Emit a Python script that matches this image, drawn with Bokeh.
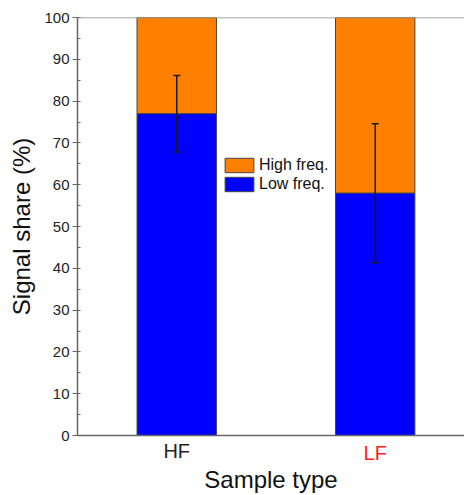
from bokeh.plotting import figure
from bokeh.models import (ColumnDataSource, Whisker, TeeHead, Range1d, FixedTicker,
                          SingleIntervalTicker, Span, Legend, LegendItem, LinearAxis)
from bokeh.embed import file_html
from bokeh.resources import INLINE

# Data
categories = ["HF", "LF"]
positions = [1, 2]
low_freq = [77.0, 58.0]
high_freq = [23.0, 42.0]
err_lower = [67.8, 41.3]
err_upper = [86.1, 74.6]
label_colors = ["#222222", "#ff2020"]

FONT = "Liberation Sans"
AX = "#666666"

source = ColumnDataSource(dict(x=positions, low=low_freq, high=high_freq,
                               lower=err_lower, upper=err_upper))

p = figure(width=464, height=495, output_backend="svg", toolbar_location=None,
           x_range=Range1d(0.5, 2.45), y_range=Range1d(0, 100),
           min_border_left=77, min_border_right=0, min_border_top=17, min_border_bottom=60)
p.outline_line_color = None
p.xgrid.visible = False
p.ygrid.visible = False

rs = p.vbar_stack(["low", "high"], x="x", width=0.4, source=source,
                  color=["#0000ff", "#ff8000"], line_color="#444444", line_width=1)

w = Whisker(source=source, base="x", lower="lower", upper="upper", level="overlay",
            line_color="#1a1a1a", line_width=1.5,
            upper_head=TeeHead(size=7, line_color="#1a1a1a", line_width=1.5),
            lower_head=TeeHead(size=7, line_color="#1a1a1a", line_width=1.5))
p.add_layout(w)

# top frame line
p.add_layout(Span(location=100, dimension="width", line_color="#888888", line_width=1.5))

# y axis
yax = p.yaxis[0]
yax.ticker = SingleIntervalTicker(interval=10, num_minor_ticks=2)
yax.axis_label = "Signal share (%)"
yax.axis_label_text_font = FONT
yax.axis_label_text_font_size = "24px"
yax.axis_label_text_font_style = "normal"
yax.axis_label_text_color = "#111111"
yax.axis_label_standoff = 6
yax.major_label_text_font = FONT
yax.major_label_text_font_size = "15px"
yax.major_label_text_color = "#222222"
yax.major_label_standoff = 3
yax.major_tick_out = 5
yax.major_tick_in = 0
yax.minor_tick_in = 3
yax.minor_tick_out = 0
yax.axis_line_color = AX
yax.axis_line_width = 1.5
yax.major_tick_line_color = AX
yax.minor_tick_line_color = AX

# x axis (HF label, black)
xax = p.xaxis[0]
xax.ticker = FixedTicker(ticks=[positions[0]])
xax.major_label_overrides = {positions[0]: categories[0]}
xax.major_label_text_font = FONT
xax.major_label_text_font_size = "20px"
xax.major_label_text_color = label_colors[0]
xax.major_label_standoff = 4
xax.major_tick_out = 0
xax.major_tick_in = 0
xax.minor_tick_out = 0
xax.minor_tick_in = 0
xax.major_tick_line_color = None
xax.minor_tick_line_color = None
xax.axis_line_color = AX
xax.axis_line_width = 1.5

# second x axis carrying the red LF label, pulled up to the same line
xax2 = LinearAxis(ticker=FixedTicker(ticks=[positions[1]]),
                  major_label_overrides={positions[1]: categories[1]},
                  major_label_text_font=FONT, major_label_text_font_size="20px",
                  major_label_text_color=label_colors[1],
                  major_label_standoff=-23,
                  major_tick_out=0, major_tick_in=0, minor_tick_out=0, minor_tick_in=0,
                  major_tick_line_color=None, minor_tick_line_color=None,
                  axis_line_color=None,
                  axis_label="Sample type", axis_label_text_font=FONT,
                  axis_label_text_font_size="24px", axis_label_text_font_style="normal",
                  axis_label_text_color="#111111", axis_label_standoff=-1)
p.add_layout(xax2, "below")

legend = Legend(items=[LegendItem(label="High freq.", renderers=[rs[1]]),
                       LegendItem(label="Low freq.", renderers=[rs[0]])],
                location=(144, 242), glyph_width=36, glyph_height=18,
                label_height=18, label_standoff=2, padding=0, spacing=1, margin=0,
                border_line_color=None, background_fill_alpha=0,
                label_text_font=FONT, label_text_font_size="16px",
                label_text_color="#111111")
p.add_layout(legend)

open("out.html", "w").write(file_html(p, INLINE))
